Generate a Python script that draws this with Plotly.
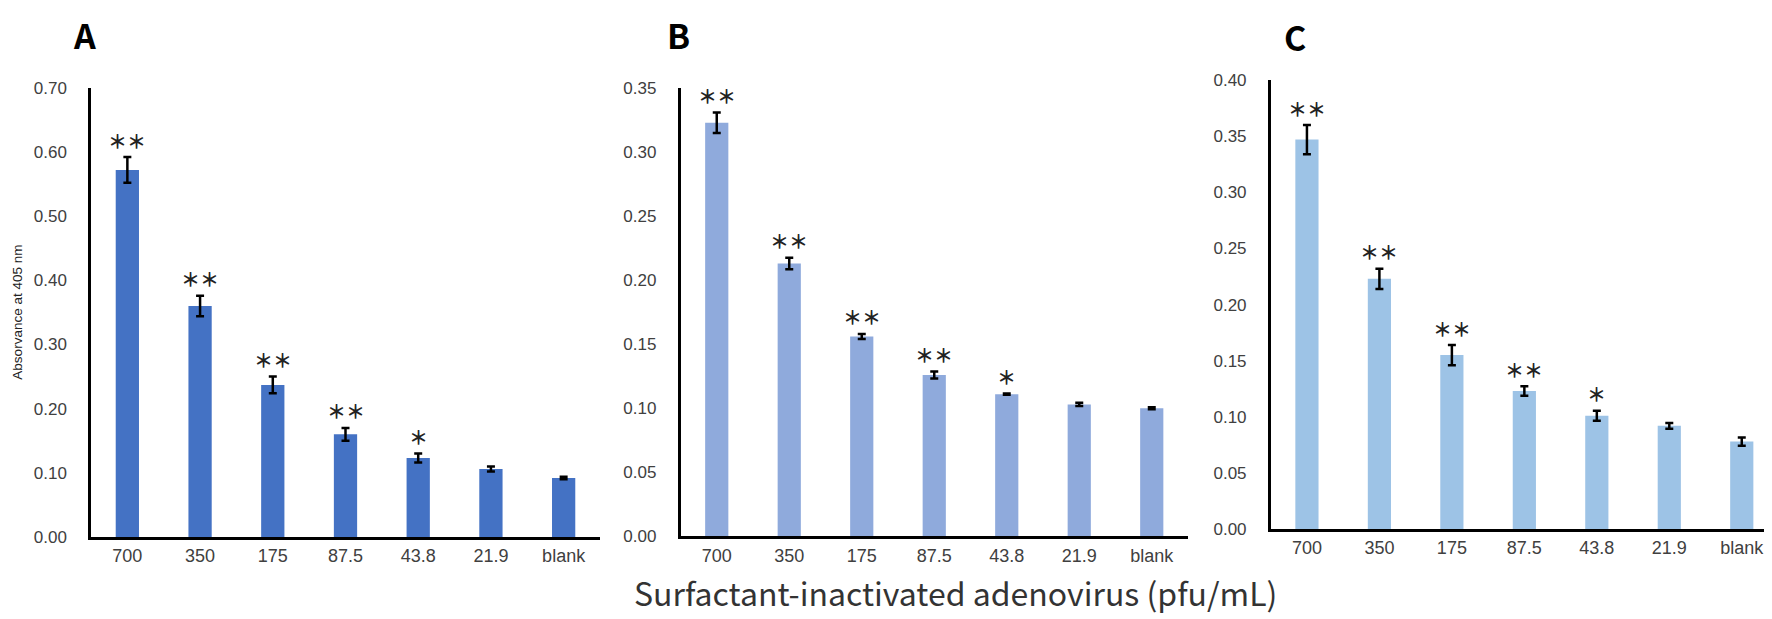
import plotly.graph_objects as go

categories = ["700", "350", "175", "87.5", "43.8", "21.9", "blank"]

values_a = [0.572, 0.360, 0.237, 0.160, 0.123, 0.106, 0.092]
errors_a = [0.020, 0.016, 0.013, 0.010, 0.007, 0.004, 0.002]
stars_a = ["＊＊", "＊＊", "＊＊", "＊＊", "＊", "", ""]

values_b = [0.323, 0.213, 0.156, 0.126, 0.111, 0.103, 0.100]
errors_b = [0.008, 0.0045, 0.002, 0.0027, 0.0005, 0.0012, 0.0008]
stars_b = ["＊＊", "＊＊", "＊＊", "＊＊", "＊", "", ""]

values_c = [0.347, 0.223, 0.155, 0.123, 0.101, 0.092, 0.078]
errors_c = [0.013, 0.009, 0.009, 0.0043, 0.0044, 0.0026, 0.0037]
stars_c = ["＊＊", "＊＊", "＊＊", "＊＊", "＊", "", ""]

panel_labels = ["A", "B", "C"]
y_ticks_a = [0.0, 0.1, 0.2, 0.3, 0.4, 0.5, 0.6, 0.7]
y_ticks_b = [0.0, 0.05, 0.10, 0.15, 0.20, 0.25, 0.30, 0.35]
y_ticks_c = [0.0, 0.05, 0.10, 0.15, 0.20, 0.25, 0.30, 0.35, 0.40]

y_title = "Absorvance at 405 nm"
x_title = "Surfactant-inactivated adenovirus (pfu/mL)"

W, H = 1772, 619

panels = [
    dict(vals=values_a, errs=errors_a, stars=stars_a, color="#4472C4", ticks=y_ticks_a,
         xdom=(83, 592), ydom=(536.5, 73), yrange=(0, 0.70), label_xy=(76, 18)),
    dict(vals=values_b, errs=errors_b, stars=stars_b, color="#8FAADC", ticks=y_ticks_b,
         xdom=(672.5, 1180), ydom=(535.7, 73.4), yrange=(0, 0.35), label_xy=(670, 18)),
    dict(vals=values_c, errs=errors_c, stars=stars_c, color="#9DC3E6", ticks=y_ticks_c,
         xdom=(1262.7, 1770), ydom=(528.3, 65.1), yrange=(0, 0.40), label_xy=(1287, 20)),
]

fig = go.Figure()
annotations = []
layout_axes = {}
tick_font = dict(family="Liberation Sans, Arial, sans-serif", size=17, color="#404040")

for i, p in enumerate(panels):
    n = "" if i == 0 else str(i + 1)
    xref = "x" + n
    yref = "y" + n
    fig.add_trace(go.Bar(
        x=categories, y=p["vals"], xaxis=xref, yaxis=yref,
        marker=dict(color=p["color"], line=dict(width=0)),
        width=0.32,
        error_y=dict(type="data", array=p["errs"], visible=True,
                     color="black", thickness=2.5, width=4),
        showlegend=False,
    ))
    layout_axes["xaxis" + n] = dict(
        domain=[p["xdom"][0] / W, p["xdom"][1] / W],
        anchor=yref, type="category", range=[-0.5, 6.5],
        showline=True, linecolor="black", linewidth=2.5,
        showgrid=False, zeroline=False, ticks="",
        tickfont=dict(family="Liberation Sans, Arial, sans-serif", size=18, color="#404040"),
        ticklabelstandoff=1,
    )
    layout_axes["yaxis" + n] = dict(
        domain=[1 - p["ydom"][0] / H, 1 - p["ydom"][1] / H],
        anchor=xref, range=list(p["yrange"]),
        tickvals=p["ticks"], tickformat=".2f",
        showline=True, linecolor="black", linewidth=2.5,
        showgrid=False, zeroline=False, ticks="",
        tickfont=tick_font, ticklabelstandoff=18,
    )
    for idx, (v, e, s) in enumerate(zip(p["vals"], p["errs"], p["stars"])):
        if s:
            annotations.append(dict(
                x=idx, y=v + e, xref=xref, yref=yref, text="<b>" + s + "</b>", showarrow=False,
                yanchor="middle", yshift=17,
                font=dict(family="Noto Sans CJK JP", size=19, color="#222222"),
            ))
    annotations.append(dict(
        x=p["label_xy"][0] / W, y=1 - p["label_xy"][1] / H, xref="paper", yref="paper",
        text="<b>" + panel_labels[i] + "</b>", showarrow=False,
        xanchor="center", yanchor="middle",
        font=dict(family="Noto Sans CJK JP", size=34, color="black"),
    ))

annotations.append(dict(
    x=10 / W, y=1 - 305 / H, xref="paper", yref="paper", text=y_title,
    textangle=-90, showarrow=False, xanchor="center", yanchor="middle",
    font=dict(family="Liberation Sans, Arial, sans-serif", size=13.5, color="#222222"),
))
annotations.append(dict(
    x=947 / W, y=0, xref="paper", yref="paper", text=x_title,
    showarrow=False, xanchor="center", yanchor="bottom",
    font=dict(family="Noto Sans CJK JP", size=32, color="#333333"),
))

fig.update_layout(
    width=W, height=H,
    margin=dict(l=0, r=0, t=0, b=0),
    paper_bgcolor="white", plot_bgcolor="white",
    annotations=annotations,
    **layout_axes,
)

fig.write_html("out.html")
